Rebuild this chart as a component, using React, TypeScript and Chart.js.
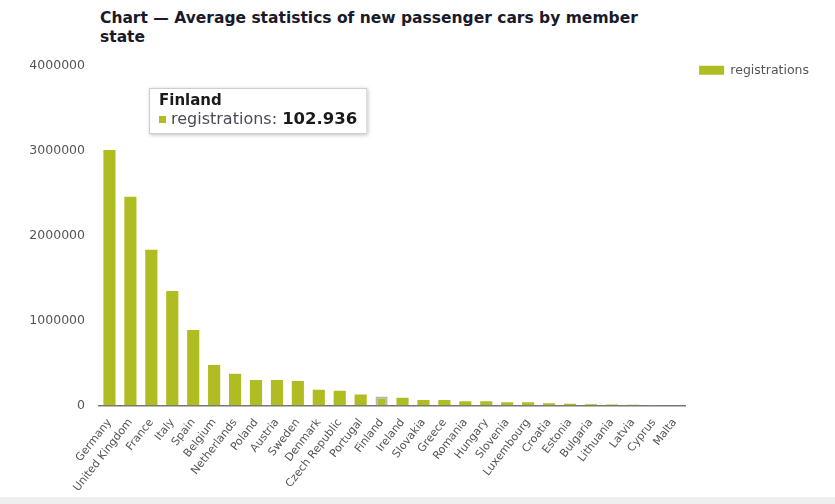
import React, { useEffect, useRef } from "react";
import { Chart, registerables } from "chart.js";

Chart.register(...registerables);

const countries = [
  "Germany", "United Kingdom", "France", "Italy", "Spain", "Belgium", "Netherlands",
  "Poland", "Austria", "Sweden", "Denmark", "Czech Republic", "Portugal", "Finland",
  "Ireland", "Slovakia", "Greece", "Romania", "Hungary", "Slovenia", "Luxembourg",
  "Croatia", "Estonia", "Bulgaria", "Lithuania", "Latvia", "Cyprus", "Malta",
];

const registrations = [
  3010000, 2460000, 1834000, 1347000, 887000, 474000, 371000,
  297000, 297000, 285000, 183000, 171000, 127000, 102936,
  90000, 63000, 63000, 48000, 48000, 35000, 35000,
  24000, 17000, 11000, 8000, 7000, 4000, 2000,
];

const yTicks = [0, 1000000, 2000000, 3000000, 4000000];
const highlighted = "Finland";
const seriesName = "registrations";
const titleText = "Chart \u2014 Average statistics of new passenger cars by member state";

const GREEN = "#b0bd22";
const FONT = "'DejaVu Sans', Verdana, sans-serif";

function fmtDots(v: number): string {
  return String(v).replace(/\B(?=(\d{3})+(?!\d))/g, ".");
}

const legendShift = {
  id: "legendShift",
  afterLayout(chart: any) {
    const lg = chart.legend;
    if (!lg) return;
    lg.top -= 12;
    lg.bottom -= 12;
    lg.left += 4;
    lg.right += 4;
  },
};

const tooltipPlugin = {
  id: "fixedTooltip",
  afterDatasetsDraw(chart: any) {
    const idx = countries.indexOf(highlighted);
    if (idx < 0) return;
    const ctx = chart.ctx;
    const area = chart.chartArea;
    const x = area.left + 50;
    const y = area.top + 22;
    const title = countries[idx];
    const label = seriesName + ": ";
    const value = fmtDots(registrations[idx]);
    const fTitle = `bold 15px ${FONT}`;
    const fLabel = `16px ${FONT}`;
    const fValue = `bold 16.5px ${FONT}`;
    ctx.save();
    ctx.font = fTitle;
    const tw = ctx.measureText(title).width;
    ctx.font = fLabel;
    const lw = ctx.measureText(label).width;
    ctx.font = fValue;
    const vw = ctx.measureText(value).width;
    const padX = 10;
    const sq = 7;
    const contentW = Math.max(tw, sq + 5 + lw + vw);
    const w = contentW + padX * 2;
    const h = 46;
    ctx.shadowColor = "rgba(0,0,0,0.25)";
    ctx.shadowBlur = 4;
    ctx.shadowOffsetX = 1;
    ctx.shadowOffsetY = 1;
    ctx.fillStyle = "#ffffff";
    ctx.fillRect(x, y, w, h);
    ctx.shadowColor = "transparent";
    ctx.strokeStyle = "#cfcfcf";
    ctx.lineWidth = 1;
    ctx.strokeRect(x + 0.5, y + 0.5, w - 1, h - 1);
    ctx.textBaseline = "middle";
    ctx.textAlign = "left";
    ctx.fillStyle = "#1a1a1a";
    ctx.font = fTitle;
    ctx.fillText(title, x + padX, y + 13);
    ctx.fillStyle = GREEN;
    ctx.fillRect(x + padX, y + 28, sq, sq);
    ctx.fillStyle = "#4a4a55";
    ctx.font = fLabel;
    ctx.fillText(label, x + padX + sq + 5, y + 32);
    ctx.fillStyle = "#1a1a1a";
    ctx.font = fValue;
    ctx.fillText(value, x + padX + sq + 5 + lw, y + 32);
    ctx.restore();
  },
};

export default function App() {
  const ref = useRef<HTMLCanvasElement | null>(null);
  useEffect(() => {
    if (!ref.current) return;
    const chart = new Chart(ref.current, {
      type: "bar",
      data: {
        labels: countries,
        datasets: [
          {
            label: seriesName,
            data: registrations,
            backgroundColor: GREEN,
            borderColor: countries.map((c) => (c === highlighted ? "#b5b5b5" : GREEN)),
            borderWidth: countries.map((c) => (c === highlighted ? 2 : 0)),
            borderSkipped: "bottom",
            categoryPercentage: 1,
            barPercentage: 0.58,
          },
        ],
      },
      options: {
        animation: false,
        responsive: true,
        maintainAspectRatio: false,
        layout: { padding: { top: 66, left: 8, right: 20, bottom: 0 } },
        plugins: {
          title: { display: false },
          tooltip: { enabled: false },
          legend: {
            position: "right",
            align: "start",
            labels: {
              boxWidth: 25,
              boxHeight: 9,
              color: "#555555",
              font: { family: FONT, size: 12.5 },
            },
          },
        },
        scales: {
          x: {
            grid: { display: false },
            border: { display: true, color: "#777777", width: 1.5 },
            ticks: {
              color: "#555555",
              font: { family: FONT, size: 11 },
              minRotation: 52,
              maxRotation: 52,
              autoSkip: false,
            },
          },
          y: {
            min: 0,
            max: 4000000,
            afterBuildTicks: (scale: any) => {
              scale.ticks = yTicks.map((v) => ({ value: v }));
            },
            afterFit: (scale: any) => {
              scale.width = 91;
            },
            grid: { display: false },
            border: { display: false },
            ticks: {
              color: "#555555",
              padding: 6,
              font: { family: FONT, size: 12.5 },
              callback: (v: any) => String(v),
            },
          },
        },
      },
      plugins: [tooltipPlugin, legendShift],
    });
    return () => chart.destroy();
  }, []);

  return (
    <div style={{ position: "absolute", left: 0, top: 0, width: 835, height: 504, background: "#fff", overflow: "hidden" }}>
      <div
        style={{
          position: "absolute",
          left: 100,
          top: 9,
          width: 565,
          fontFamily: FONT,
          fontWeight: "bold",
          fontSize: 15.5,
          lineHeight: "19px",
          color: "#1a1a2a",
        }}
      >
        {titleText}
      </div>
      <div style={{ position: "absolute", left: 0, top: 0, width: 835, height: 497 }}>
        <canvas ref={ref} />
      </div>
      <div style={{ position: "absolute", left: 0, top: 497, width: 835, height: 7, background: "#efefef" }} />
    </div>
  );
}
